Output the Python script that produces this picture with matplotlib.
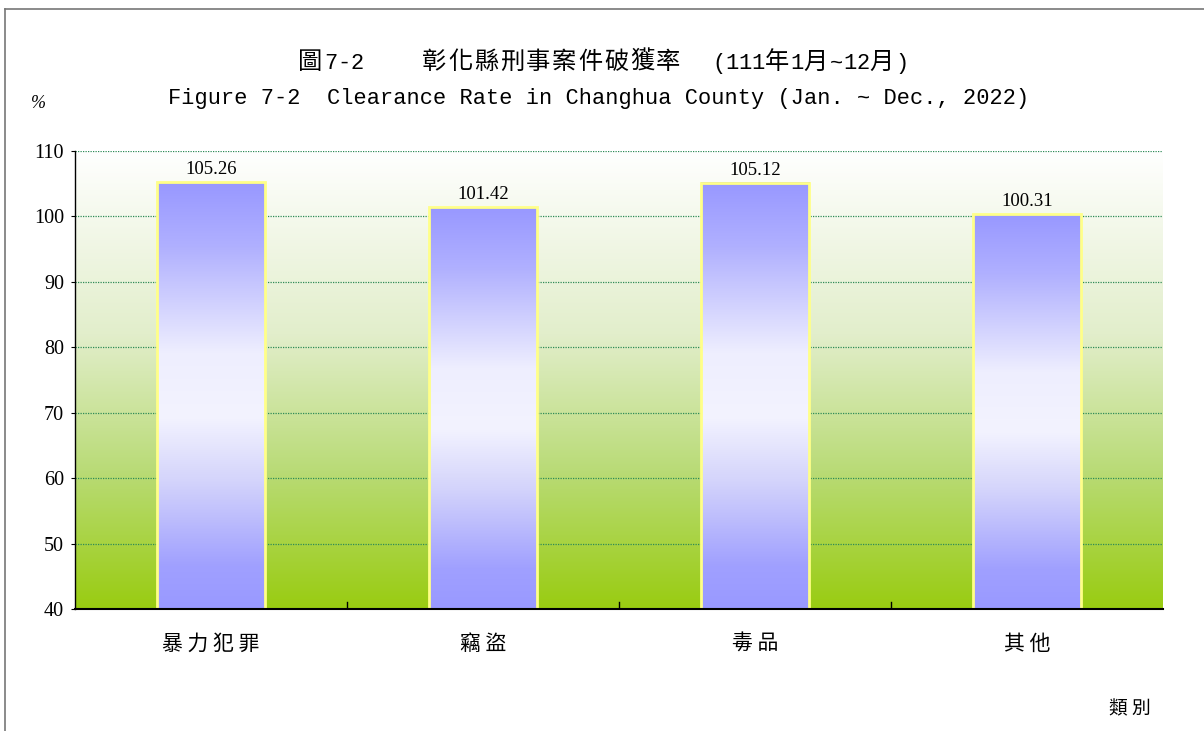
import numpy as np
import matplotlib
matplotlib.use("Agg")
import matplotlib.pyplot as plt
from matplotlib.colors import LinearSegmentedColormap
from matplotlib.lines import Line2D

OUT = "out.png"

categories = ["暴力犯罪", "竊盜", "毒品", "其他"]
rates = [105.26, 101.42, 105.12, 100.31]
yticks = [40, 50, 60, 70, 80, 90, 100, 110]

CJK = ["Noto Sans CJK TC", "DejaVu Sans"]
MONO = ["Liberation Mono", "Noto Sans CJK TC"]
SERIF = ["Liberation Serif", "DejaVu Serif"]

YMIN, YMAX = 40, 110
BAR_W = 0.4
W, H = 1204, 731
HALF_PX, FULL_PX = 13.15, 26.0   # advance of half / full width characters


def mixed_text(fig, x, y, s):
    """Lay out a string with half-width ASCII and full-width CJK cells."""
    for ch in s:
        if ord(ch) < 128:
            if ch != " ":
                fig.text(x / W, 1 - y / H, ch, family=MONO, fontsize=15.8,
                         ha="left", va="baseline")
            x += HALF_PX
        else:
            if ch != "　":
                fig.text(x / W, 1 - y / H, ch, family=CJK, fontsize=17.5,
                         ha="left", va="baseline")
            x += FULL_PX


# background: green at bottom fading to white at top
bg_cmap = LinearSegmentedColormap.from_list(
    "bg", [(0.0, "#99cc11"), (0.3, "#b9db76"), (0.6, "#e2eecb"), (1.0, "#ffffff")])
# bar: blue at both ends, near white in the middle
bar_cmap = LinearSegmentedColormap.from_list(
    "bar", [(0.0, "#9999ff"), (0.1, "#a0a0ff"), (0.3, "#d4d4fb"),
            (0.45, "#f3f3ff"), (0.6, "#eeeefe"), (0.85, "#b0b0ff"),
            (1.0, "#9898ff")])

fig = plt.figure(figsize=(W / 100, H / 100), dpi=100)
ax = fig.add_axes([75 / W, 1 - 609 / H, (1163 - 75) / W, (609 - 151) / H])

n = len(categories)
grad = np.linspace(0, 1, 256).reshape(-1, 1)
ax.imshow(grad, cmap=bg_cmap, origin="lower", aspect="auto",
          extent=[-0.5, n - 0.5, YMIN, YMAX], zorder=0)

for y in yticks[1:]:
    ax.axhline(y, color="#2e8b57", lw=0.9, ls=(0, (1, 1)), zorder=1)

for i, v in enumerate(rates):
    x0, x1 = i - BAR_W / 2, i + BAR_W / 2
    ax.imshow(grad, cmap=bar_cmap, origin="lower", aspect="auto",
              extent=[x0, x1, YMIN, v], zorder=2)
    ax.add_patch(plt.Rectangle((x0, YMIN), BAR_W, v - YMIN, fill=False,
                               ec="#ffff88", lw=2, zorder=3))
    ax.text(i, v + 0.6, f"{v:.2f}", ha="center", va="bottom",
            family=SERIF, fontsize=13.5, zorder=4)

ax.set_xlim(-0.5, n - 0.5)
ax.set_ylim(YMIN, YMAX)
ax.set_yticks(yticks)
ax.set_yticklabels([str(t) for t in yticks], family=SERIF, fontsize=14.5)
ax.set_xticks(range(n))
ax.set_xticklabels([" ".join(c) for c in categories], family=CJK, fontsize=15)
ax.tick_params(axis="x", length=0, pad=17)
ax.tick_params(axis="y", length=3, direction="out", pad=5)
# category separators as small inward ticks on the x axis
for b in np.arange(0.5, n - 0.5, 1):
    ax.plot([b, b], [YMIN, YMIN + 1.0], color="black", lw=1, zorder=5)
for s in ("top", "right"):
    ax.spines[s].set_visible(False)
ax.spines["left"].set_linewidth(1.0)
ax.spines["bottom"].set_linewidth(1.5)
ax.spines["left"].set_zorder(6)
ax.spines["bottom"].set_zorder(6)

# titles
mixed_text(fig, 298, 69, "圖7-2")
mixed_text(fig, 422, 69, "彰化縣刑事案件破獲率")
mixed_text(fig, 712, 69, "(111年1月~12月)")
fig.text(168 / W, 1 - 104 / H,
         "Figure 7-2  Clearance Rate in Changhua County (Jan. ~ Dec., 2022)",
         ha="left", va="baseline", family=MONO, fontsize=15.8)
fig.text(38 / W, 1 - 103 / H, "%", ha="center", va="center",
         family=SERIF, fontsize=13, style="italic")
fig.text(1130 / W, 1 - 709 / H, "類 別", ha="center", va="center",
         family=CJK, fontsize=13.5)

# outer frame (left and top edges visible)
fig.add_artist(Line2D([5 / W, 5 / W], [0, 1 - 9 / H], color="#777777", lw=1.2))
fig.add_artist(Line2D([5 / W, 1], [1 - 9 / H, 1 - 9 / H], color="#777777", lw=1.2))

fig.savefig(OUT, dpi=100)
